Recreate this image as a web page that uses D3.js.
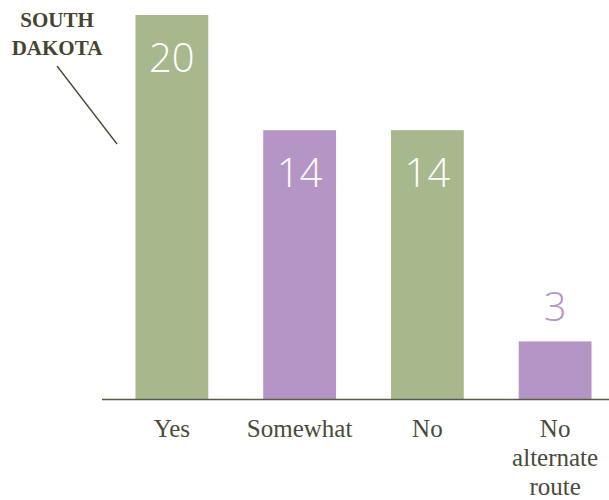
<!DOCTYPE html>
<html><head><meta charset="utf-8">
<script src="https://cdn.jsdelivr.net/npm/d3@7"></script>
<style>html,body{margin:0;padding:0;background:#fff;}svg{display:block;}</style>
</head><body>
<svg id="c" width="609" height="500"></svg>
<script>
const categories = [["Yes"], ["Somewhat"], ["No"], ["No", "alternate", "route"]];
const values = [20, 14, 14, 3];
const barColors = ["#a6b88c", "#b495c6", "#a6b88c", "#b495c6"];
const stateLabel = ["SOUTH", "DAKOTA"];

const SERIF = '"Liberation Serif"';
const LIGHT = '"Open Sans"';

const svg = d3.select("#c");
const keys = categories.map((c, i) => i);
const x = d3.scaleBand().domain(keys).range([108, 619]).paddingInner(0.43).paddingOuter(0.215);
const y = d3.scaleLinear().domain([0, 20]).range([399, 15]);

svg.selectAll("rect.bar").data(values).join("rect")
  .attr("class", "bar")
  .attr("x", (d, i) => x(i))
  .attr("width", x.bandwidth())
  .attr("y", d => y(d))
  .attr("height", d => y(0) - y(d))
  .attr("fill", (d, i) => barColors[i]);

// value labels
svg.selectAll("text.val").data(values).join("text")
  .attr("class", "val")
  .attr("x", (d, i) => x(i) + x.bandwidth() / 2)
  .attr("y", d => d >= 5 ? y(d) + 57 : y(d) - 20)
  .attr("text-anchor", "middle")
  .style("font-family", LIGHT)
  .style("font-weight", 300)
  .style("font-size", "40px")
  .attr("fill", (d, i) => d >= 5 ? "#ffffff" : barColors[i])
  .text(d => d);

// axis line
svg.append("line").attr("x1", 102).attr("x2", 609).attr("y1", 399.5).attr("y2", 399.5)
  .attr("stroke", "#5a5a48").attr("stroke-width", 1.5);

// category labels
const cat = svg.selectAll("text.cat").data(categories).join("text")
  .attr("class", "cat")
  .attr("text-anchor", "middle")
  .style("font-family", SERIF)
  .style("font-size", "25px")
  .attr("fill", "#4a4a3a");
cat.each(function(lines, i) {
  const t = d3.select(this);
  lines.forEach((l, j) => {
    t.append("tspan").attr("x", x(i) + x.bandwidth() / 2).attr("y", 437 + j * 29).text(l);
  });
});

// state label
const st = svg.append("text").attr("text-anchor", "middle")
  .style("font-family", SERIF).style("font-weight", "bold")
  .style("font-size", "21px").attr("fill", "#45452f");
stateLabel.forEach((l, j) => st.append("tspan").attr("x", 57).attr("y", 27 + j * 28).text(l));
svg.append("line").attr("x1", 57).attr("y1", 66).attr("x2", 117).attr("y2", 144)
  .attr("stroke", "#45452f").attr("stroke-width", 1.3);
</script>
</body></html>
